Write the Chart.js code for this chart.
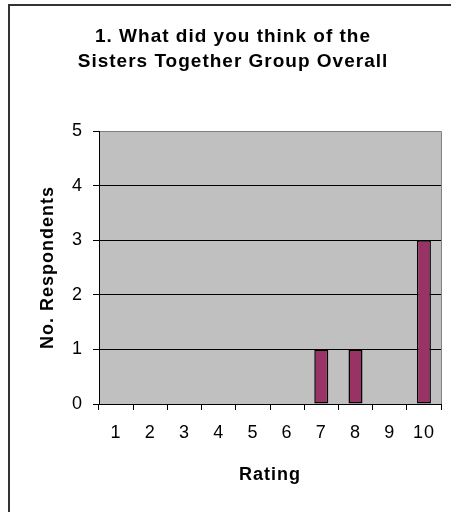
<!DOCTYPE html>
<html>
<head>
<meta charset="utf-8">
<script src="https://cdn.jsdelivr.net/npm/chart.js@4/dist/chart.umd.min.js"></script>
<style>
  html, body { margin: 0; padding: 0; background: #fff; }
  #wrap { width: 451px; height: 512px; }
</style>
</head>
<body>
<div id="wrap"><canvas id="chart" width="451" height="512"></canvas></div>
<script>
const ratings = ['1', '2', '3', '4', '5', '6', '7', '8', '9', '10'];
const respondents = [0, 0, 0, 0, 0, 0, 1, 1, 0, 3];
const titleLines = ['1. What did you think of the', 'Sisters Together Group Overall'];
const yMax = 5;

const FONT = "'Liberation Sans', Arial, sans-serif";

// grey plot background, frame around the whole chart, and the two-line heading
const excelLook = {
  id: 'excelLook',
  beforeDraw(chart) {
    const { ctx, chartArea: a } = chart;
    ctx.save();
    ctx.fillStyle = '#c0c0c0';
    ctx.fillRect(a.left, a.top, a.right - a.left, a.bottom - a.top);
    ctx.strokeStyle = '#808080';
    ctx.lineWidth = 1;
    ctx.beginPath();
    ctx.moveTo(a.left, a.top + 0.5);
    ctx.lineTo(a.right + 0.5, a.top + 0.5);
    ctx.lineTo(a.right + 0.5, a.bottom);
    ctx.stroke();
    ctx.restore();
    ctx.letterSpacing = '1px';
  },
  afterDraw(chart) {
    const ctx = chart.ctx;
    ctx.save();
    ctx.strokeStyle = '#333';
    ctx.lineWidth = 2;
    ctx.strokeRect(9, 5, 460, 520);
    ctx.fillStyle = '#000';
    ctx.font = 'bold 19px ' + FONT;
    ctx.letterSpacing = '1px';
    ctx.textAlign = 'center';
    ctx.textBaseline = 'alphabetic';
    ctx.fillText(titleLines[0], 233, 42);
    ctx.fillText(titleLines[1], 233, 67);
    ctx.restore();
  }
};

const chart = new Chart(document.getElementById('chart'), {
  type: 'bar',
  data: {
    labels: ratings,
    datasets: [{
      data: respondents,
      backgroundColor: '#993366',
      borderColor: '#000',
      borderWidth: 1.5,
      borderSkipped: false,
      categoryPercentage: 1,
      barPercentage: 0.41
    }]
  },
  options: {
    responsive: false,
    animation: false,
    layout: { padding: { left: 0, right: 10, top: 131, bottom: 0 } },
    plugins: {
      legend: { display: false },
      tooltip: { enabled: false },
      title: { display: false }
    },
    scales: {
      x: {
        grid: {
          offset: true,
          drawOnChartArea: false,
          drawTicks: true,
          tickLength: 6,
          tickColor: '#000'
        },
        border: { color: '#000', width: 1 },
        ticks: {
          color: '#000',
          padding: 12,
          font: { family: FONT, size: 18 },
          maxRotation: 0
        },
        title: {
          display: true,
          text: 'Rating',
          color: '#000',
          font: { family: FONT, size: 18, weight: 'bold' },
          padding: { top: 0, bottom: 26 }
        },
        afterFit(scale) { scale.height = 108; }
      },
      y: {
        min: 0,
        max: yMax,
        ticks: {
          stepSize: 1,
          color: '#000',
          padding: 10,
          font: { family: FONT, size: 18 }
        },
        grid: {
          color: (c) => (c.tick && c.tick.value === yMax ? '#808080' : '#000'),
          tickColor: '#000',
          tickLength: 6,
          lineWidth: 1
        },
        border: { color: '#000', width: 1 },
        title: {
          display: true,
          text: 'No. Respondents',
          color: '#000',
          font: { family: FONT, size: 18, weight: 'bold' },
          padding: { top: 37, bottom: 0 }
        },
        afterFit(scale) { scale.width = 99; }
      }
    }
  },
  plugins: [excelLook]
});
</script>
</body>
</html>
